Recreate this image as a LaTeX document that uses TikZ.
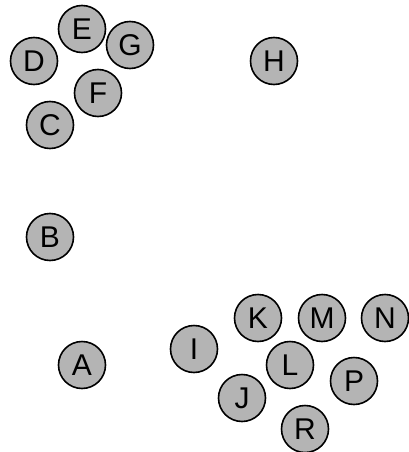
\documentclass[tikz,border=0pt]{standalone}
\usepackage{fontspec}
\setmainfont{Liberation Sans}
\definecolor{NodeColor}{RGB}{180,180,180}
\tikzset{
  vertex/.style={circle, fill=NodeColor, draw=black, line width=1.6pt, minimum size=47pt, inner sep=0pt, font=\fontsize{30}{30}\selectfont}
}
\begin{document}
\begin{tikzpicture}[x=1pt, y=-1pt]
  \useasboundingbox (0,0) rectangle (409,452);

  % Upper left group
  \node[vertex] (D) at (34,61) {D};
  \node[vertex] (E) at (82,29) {E};
  \node[vertex] (G) at (130,45) {G};
  \node[vertex] (F) at (98,93) {F};
  \node[vertex] (C) at (50,125) {C};

  % Single ones
  \node[vertex] (H) at (274,61) {H};
  \node[vertex] (B) at (50,237) {B};
  \node[vertex] (A) at (82,365) {A};

  % Lower right group
  \node[vertex] (I) at (194,349) {I};
  \node[vertex] (K) at (258,318) {K};
  \node[vertex] (M) at (322,318) {M};
  \node[vertex] (N) at (385,318) {N};
  \node[vertex] (L) at (290,365) {L};
  \node[vertex] (P) at (354,381) {P};
  \node[vertex] (J) at (242,398) {J};
  \node[vertex] (R) at (305,429) {R};
\end{tikzpicture}
\end{document}
